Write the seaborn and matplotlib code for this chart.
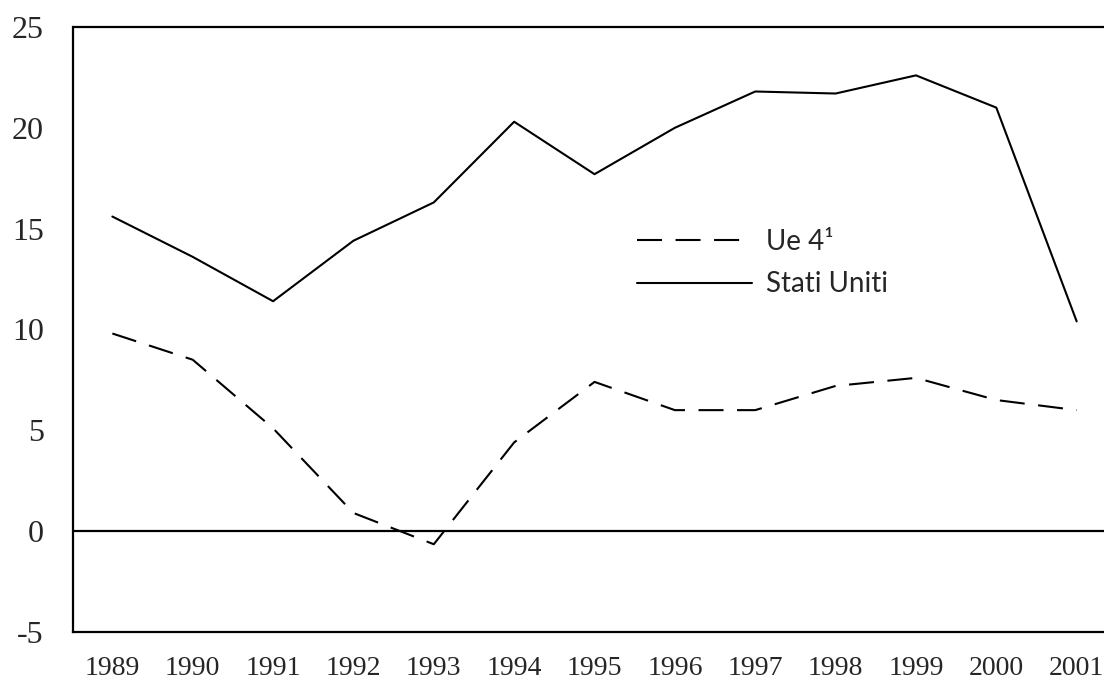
import pandas as pd
import matplotlib.pyplot as plt
import seaborn as sns

# valori
anni = list(range(1989, 2002))
ue4 = [9.8, 8.5, 5.1, 0.9, -0.65, 4.4, 7.4, 6.0, 6.0, 7.2, 7.6, 6.5, 6.0]
usa = [15.6, 13.6, 11.4, 14.4, 16.3, 20.3, 17.7, 20.0, 21.8, 21.7, 22.6, 21.0, 10.4]
etichette = ['Ue 4\u00b9', 'Stati Uniti']
yticks = [-5, 0, 5, 10, 15, 20, 25]

df = pd.DataFrame({
    'anno': anni * 2,
    'valore': ue4 + usa,
    'serie': [etichette[0]] * len(anni) + [etichette[1]] * len(anni),
})

sns.set_style('white')

fig = plt.figure(figsize=(11.04, 6.81), dpi=100)
ax = fig.add_axes([0.0661, 0.072, 0.9339, 0.8884])

sns.lineplot(data=df, x='anno', y='valore', hue='serie', style='serie',
             palette=['black', 'black'],
             dashes={etichette[0]: (12, 6.5), etichette[1]: ''},
             linewidth=1.5, ax=ax)

ax.axhline(0, color='black', linewidth=1.6, zorder=1)
ax.axhline(25, color='black', linewidth=1.6, zorder=1, clip_on=False)

ax.set_xlim(1988.51, 2001.34)
ax.set_ylim(-5, 25)
ax.set_yticks(yticks)
ax.set_yticklabels([str(v) for v in yticks])  # trattino semplice come nell'originale
ax.set_xticks(anni)
ax.set_xlabel('')
ax.set_ylabel('')

for s in ['top', 'right']:
    ax.spines[s].set_visible(False)
for s in ['left', 'bottom']:
    ax.spines[s].set_color('black')
    ax.spines[s].set_linewidth(1.6)

ax.tick_params(axis='y', direction='out', length=7, width=1.6, color='black',
               pad=14, labelsize=23)
ax.tick_params(axis='x', length=0, pad=17, labelsize=20)
for lab in ax.get_xticklabels() + ax.get_yticklabels():
    lab.set_family('Liberation Serif')

leg = ax.legend(loc='center left', bbox_to_anchor=(0.547, 0.61), frameon=False,
                handlelength=4.15, handletextpad=0.5, labelspacing=0.6,
                borderpad=0, borderaxespad=0,
                prop={'family': 'Lato', 'size': 20})
for h in leg.get_lines():
    h.set_linewidth(1.5)

fig.savefig('out.png', dpi=100)
